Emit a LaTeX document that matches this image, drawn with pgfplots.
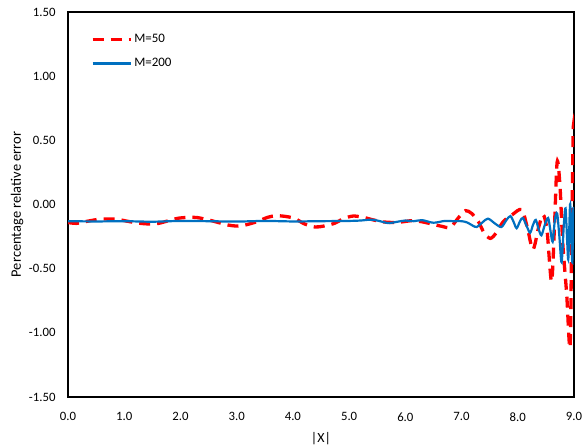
\documentclass[border=0pt]{standalone}
\usepackage{pgfplots}
\pgfplotsset{compat=1.18}
\usepackage{fontspec}
\setmainfont{Carlito}
\definecolor{exred}{RGB}{255,0,0}
\definecolor{exblue}{RGB}{0,112,192}
\begin{document}
\begin{tikzpicture}
\begin{axis}[
  scale only axis, width=506bp, height=385bp,
  xmin=0, xmax=9, ymin=-1.5, ymax=1.5,
  xtick={0,1,2,3,4,5,6,7,8,9},
  xticklabels={0.0,1.0,2.0,3.0,4.0,5.0,6.0,7.0,8.0,9.0},
  ytick={-1.5,-1,-0.5,0,0.5,1,1.5},
  yticklabels={-1.50,-1.00,-0.50,0.00,0.50,1.00,1.50},
  major tick length=0,
  axis line style={line width=1.3bp},
  tick label style={font=\fontsize{12.8}{14}\selectfont},
  xticklabel style={yshift=-12bp},
  yticklabel style={xshift=-9bp},
  xlabel={|X|}, ylabel={Percentage relative error},
  every axis x label/.style={at={(axis description cs:0.5,0)}, yshift=-42bp, anchor=center, font=\fontsize{14}{16}\selectfont},
  every axis y label/.style={at={(axis description cs:0,0.5)}, xshift=-51bp, rotate=90, anchor=center, font=\fontsize{14.5}{16}\selectfont},
  legend style={at={(axis description cs:0.045,0.947)}, anchor=north west, draw=none, fill=none,
    font=\fontsize{13}{15}\selectfont, row sep=10bp, inner sep=0pt},
  legend cell align=left,
  legend image code/.code={\draw[#1] (0bp,0bp) -- (38bp,0bp);},
]
\addplot[exred, line width=3.3bp, dash pattern=on 11bp off 7bp, smooth, tension=0.5] coordinates {
(0.00,-0.140) (0.15,-0.147) (0.35,-0.130) (0.55,-0.115) (0.70,-0.113) (0.87,-0.115)
(1.05,-0.130) (1.25,-0.145) (1.45,-0.152) (1.60,-0.148) (1.80,-0.125) (1.96,-0.107)
(2.15,-0.100) (2.30,-0.102) (2.50,-0.120) (2.67,-0.140) (2.85,-0.160) (3.00,-0.168)
(3.15,-0.160) (3.36,-0.134) (3.55,-0.100) (3.71,-0.087) (3.90,-0.095) (4.04,-0.110)
(4.20,-0.150) (4.39,-0.175) (4.55,-0.168) (4.75,-0.145) (4.90,-0.110) (5.07,-0.090)
(5.25,-0.100) (5.43,-0.120) (5.60,-0.135) (5.78,-0.140) (5.95,-0.135) (6.12,-0.126)
(6.30,-0.135) (6.47,-0.152) (6.65,-0.170) (6.80,-0.178) (6.95,-0.100) (7.07,-0.048)
(7.18,-0.070) (7.30,-0.134) (7.40,-0.220) (7.51,-0.264) (7.62,-0.220) (7.74,-0.134)
(7.90,-0.080) (8.07,-0.040) (8.17,-0.180) (8.27,-0.350) (8.37,-0.180) (8.45,-0.080)
(8.52,-0.200) (8.60,-0.600) (8.65,-0.200) (8.70,0.330) (8.75,0.150) (8.80,-0.300)
(8.87,-0.700) (8.93,-1.110) (8.96,-0.200) (8.985,0.560) (9.00,0.620)
};
\addlegendentry{M=50}
\addplot[exblue, line width=2.2bp, smooth, tension=0.5] coordinates {
(0.00,-0.130) (0.50,-0.132) (1.00,-0.130) (1.50,-0.134) (2.00,-0.128) (2.50,-0.130)
(3.00,-0.133) (3.50,-0.128) (4.00,-0.132) (4.50,-0.130) (5.00,-0.128) (5.20,-0.125)
(5.40,-0.118) (5.55,-0.130) (5.70,-0.145) (5.85,-0.135) (6.00,-0.125) (6.15,-0.130)
(6.30,-0.122) (6.50,-0.142) (6.70,-0.128) (6.85,-0.130) (7.00,-0.130) (7.10,-0.140)
(7.20,-0.165) (7.27,-0.175) (7.37,-0.140) (7.47,-0.110) (7.60,-0.150) (7.71,-0.175)
(7.80,-0.120) (7.87,-0.090) (7.93,-0.140) (7.98,-0.185) (8.04,-0.130) (8.09,-0.105)
(8.16,-0.170) (8.22,-0.220) (8.27,-0.160) (8.32,-0.120) (8.37,-0.190) (8.42,-0.240)
(8.48,-0.160) (8.54,-0.105) (8.58,-0.200) (8.62,-0.290) (8.66,-0.120) (8.70,-0.070)
(8.74,-0.250) (8.78,-0.450) (8.82,-0.150) (8.85,-0.030) (8.88,-0.300) (8.90,-0.420)
(8.93,0.000) (8.95,-0.200) (8.97,-0.450) (8.99,-0.020) (9.00,-0.300)
};
\addlegendentry{M=200}
\coordinate (bl) at (rel axis cs:0,0);
\coordinate (tr) at (rel axis cs:1,1);
\end{axis}
\path (bl) ++(-68bp,-48bp) coordinate (A);
\path (tr) ++(8bp,12bp) coordinate (B);
\pgfresetboundingbox
\path[use as bounding box] (A) rectangle (B);
\end{tikzpicture}
\end{document}
